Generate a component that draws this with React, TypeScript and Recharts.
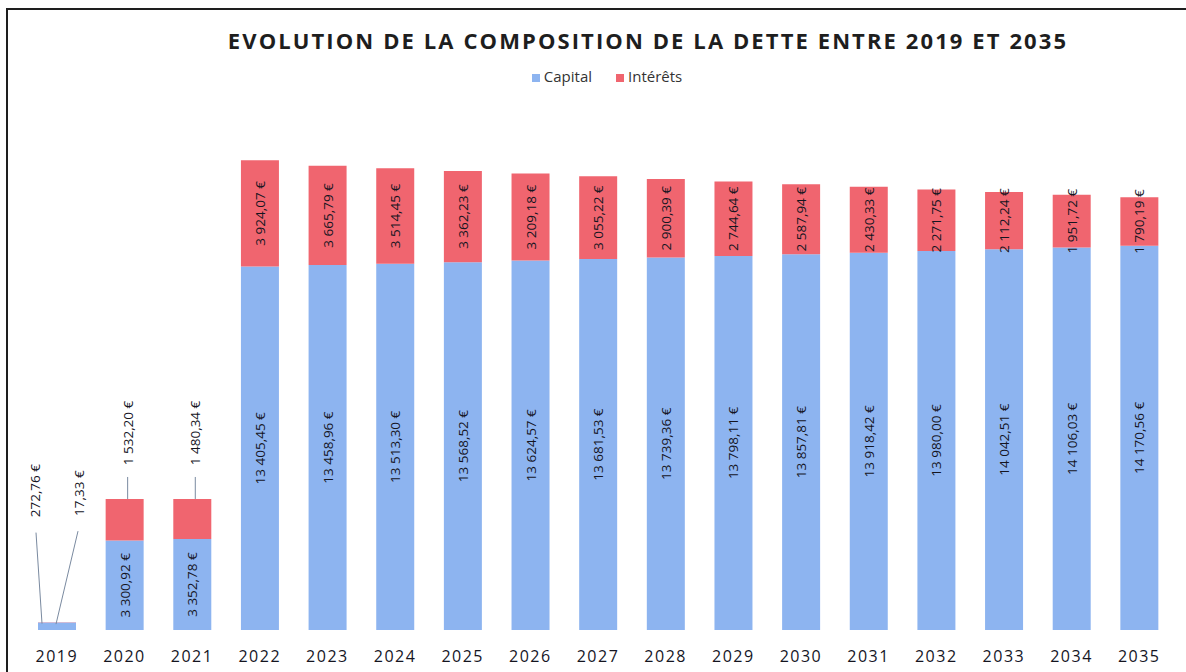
import { Bar, BarChart, LabelList, Legend, XAxis, YAxis } from 'recharts'

const years = ['2019', '2020', '2021', '2022', '2023', '2024', '2025', '2026', '2027', '2028', '2029', '2030', '2031', '2032', '2033', '2034', '2035']
const capital = [272.76, 3300.92, 3352.78, 13405.45, 13458.96, 13513.3, 13568.52, 13624.57, 13681.53, 13739.36, 13798.11, 13857.81, 13918.42, 13980.0, 14042.51, 14106.03, 14170.56]
const interets = [17.33, 1532.2, 1480.34, 3924.07, 3665.79, 3514.45, 3362.23, 3209.18, 3055.22, 2900.39, 2744.64, 2587.94, 2430.33, 2271.75, 2112.24, 1951.72, 1790.19]
// years whose labels sit outside the bar with a leader line
const outsideYears = ['2019', '2020', '2021']

const data = years.map((year, i) => ({ year, capital: capital[i], interets: interets[i] }))

const BLUE = '#8db4f0'
const RED = '#f0656f'
const FONT = '"Open Sans", "Noto Sans", sans-serif'
const INK = '#15151f'

const euro = (v: number) =>
  v.toLocaleString('fr-FR', { minimumFractionDigits: 2, maximumFractionDigits: 2 }).replace(/\u202f|\u00a0/g, ' ') + ' €'

const vText = (cx: number, cy: number, value: number) => (
  <text
    x={cx}
    y={cy}
    transform={`rotate(-90 ${cx} ${cy})`}
    textAnchor="middle"
    dominantBaseline="central"
    fontFamily={FONT}
    fontSize={13.5}
    fill={INK}
  >
    {euro(value)}
  </text>
)

const capitalLabel = (props: any) => {
  const { x, y, width, height, value, index } = props
  const cx = Number(x) + Number(width) / 2
  const top = Number(y)
  if (index === 0 && outsideYears.includes(years[index])) {
    const lx = Number(x) - 3
    const ly = top - 132
    return (
      <g>
        <line x1={lx + 1} y1={ly + 42} x2={Number(x) + 4} y2={top + 1} stroke="#7a8aa0" strokeWidth={1} />
        {vText(lx, ly, value)}
      </g>
    )
  }
  return vText(cx, top + Number(height) / 2, value)
}

const interetsLabel = (props: any) => {
  const { x, y, width, height, value, index } = props
  const cx = Number(x) + Number(width) / 2
  const top = Number(y)
  if (outsideYears.includes(years[index])) {
    if (index === 0) {
      const lx = Number(x) + Number(width) + 3
      const ly = top - 129
      return (
        <g>
          <line x1={lx - 1} y1={ly + 38} x2={cx - 1} y2={top + 2} stroke="#7a8aa0" strokeWidth={1} />
          {vText(lx, ly, value)}
        </g>
      )
    }
    const lx = cx + 3
    const ly = top - 66
    return (
      <g>
        <line x1={lx} y1={ly + 44} x2={lx} y2={top} stroke="#7a8aa0" strokeWidth={1} />
        {vText(lx, ly, value)}
      </g>
    )
  }
  return vText(cx, top + Number(height) / 2, value)
}

const YearTick = (props: any) => {
  const { x, y, payload } = props
  return (
    <text x={x} y={y + 24} textAnchor="middle" fontFamily={FONT} fontSize={16} letterSpacing={1.5} fill={INK}>
      {payload.value}
    </text>
  )
}

export default function App() {
  return (
    <div style={{ position: 'absolute', left: 0, top: 0, width: 1186, height: 672, background: '#fff', overflow: 'hidden' }}>
      <div style={{ position: 'absolute', left: 6, top: 8, width: 1200, height: 2, background: '#1e1e1e' }} />
      <div style={{ position: 'absolute', left: 6, top: 8, width: 2, height: 700, background: '#1e1e1e' }} />
      <div
        style={{
          position: 'absolute',
          left: 0,
          width: 1296,
          top: 25,
          textAlign: 'center',
          fontFamily: FONT,
          fontWeight: 700,
          fontSize: 22,
          letterSpacing: 2.1,
          color: '#1e1e1e',
        }}
      >
        EVOLUTION DE LA COMPOSITION DE LA DETTE ENTRE 2019 ET 2035
      </div>
      <BarChart width={1186} height={672} data={data} margin={{ top: 122, right: 13, bottom: 0, left: 23 }}>
        <XAxis dataKey="year" axisLine={false} tickLine={false} height={42} tick={<YearTick />} interval={0} />
        <YAxis hide domain={[0, 18000]} />
        <Legend
          verticalAlign="top"
          iconType="square"
          iconSize={8}
          wrapperStyle={{ top: 66, left: 9, width: 1220, fontFamily: FONT, fontSize: 15, color: '#333' }}
          formatter={(v: string) => <span style={{ color: '#333', marginRight: 14 }}>{v}</span>}
        />
        <Bar dataKey="capital" name="Capital" stackId="a" fill={BLUE} barSize={38} isAnimationActive={false}>
          <LabelList dataKey="capital" content={capitalLabel} />
        </Bar>
        <Bar dataKey="interets" name="Intérêts" stackId="a" fill={RED} barSize={38} isAnimationActive={false}>
          <LabelList dataKey="interets" content={interetsLabel} />
        </Bar>
      </BarChart>
    </div>
  )
}
